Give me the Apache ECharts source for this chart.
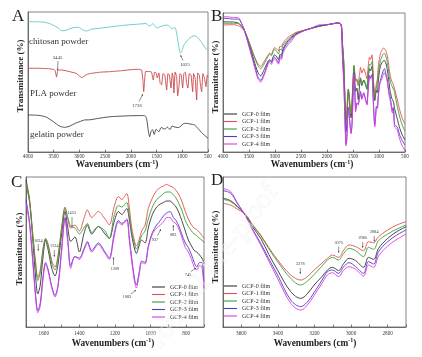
<!DOCTYPE html>
<html><head><meta charset="utf-8">
<script src="https://cdn.jsdelivr.net/npm/echarts@6/dist/echarts.min.js"></script>
<style>html,body{margin:0;padding:0;background:#fff}#c{width:422px;height:357px}</style>
</head><body><div id="c"></div><script>
// ---------- Panel A: raw powders ([wavenumber, transmittance-position]) ----------
const chitosan = [[4000,93.1],[3850,93.0],[3708,92.8],[3600,92],[3533,91.0],[3417,88.8],[3339,86.6],[3261,86.9],[3145,88.6],[3028,89.1],[2930,87.2],[2870,86.4],[2756,87.8],[2600,88.4],[2309,89.8],[2017,90.9],[1764,91.6],[1725,91.9],[1687,91.4],[1648,90.0],[1609,90.5],[1570,91.7],[1531,90.0],[1492,88.6],[1434,89.5],[1376,90.2],[1298,90.7],[1240,89.5],[1200,87.9],[1150,89.1],[1110,85.0],[1070,76],[1035,70.7],[1006,72.5],[967,76.5],[909,79.3],[851,81.5],[773,82.9],[715,82.5],[676,80.7],[618,78.0],[540,73.6],[500,73.0]];
const pla = [[4000,59.8],[3800,59.8],[3600,59.5],[3500,59],[3470,58],[3445,53.5],[3420,58.3],[3350,58.6],[3200,57.5],[3050,56],[2995,54],[2945,53.2],[2880,55],[2800,56],[2600,57],[2400,57.4],[2200,58],[2000,58.8],[1850,59.1],[1790,58.5],[1765,51],[1750,43.1],[1735,50],[1715,57.4],[1650,57.5],[1600,57.2],[1564,51.4],[1540,57],[1510,56.5],[1486,52.9],[1455,56.5],[1430,49],[1400,47.9],[1375,56],[1340,55],[1303,44.3],[1280,56],[1250,55],[1220,45.7],[1195,56.5],[1180,54],[1162,42.1],[1140,57],[1110,54],[1090,40],[1065,46.6],[1045,56],[1020,55],[993,45.7],[970,56],[940,57],[915,49],[890,45.7],[865,56],[830,55],[798,43.1],[780,56],[750,53],[720,37.1],[700,56.5],[670,55],[640,46],[623,43.1],[600,56],[570,53],[540,46.6],[515,55],[500,54]];
const gelatin = [[4000,26.4],[3800,26.2],[3650,25.0],[3500,21.5],[3400,18.8],[3290,17.6],[3200,18.3],[3080,20.5],[2950,22.3],[2900,22.9],[2800,23.0],[2600,24.2],[2400,25.2],[2200,25.6],[2000,25.9],[1800,26.0],[1720,25.8],[1690,23],[1660,15],[1635,10.9],[1610,14.5],[1580,16],[1545,12.5],[1510,16.2],[1455,14.5],[1410,17.5],[1340,16.3],[1290,17.8],[1240,16.0],[1200,18.6],[1160,18.0],[1080,17.4],[1030,18.5],[980,20.2],[920,20.5],[850,20.0],[760,19.3],[700,17.0],[600,13.0],[500,9.8]];

// ---------- Panel B: films, full range ----------
const bWn = [4000,3900,3800,3700,3620,3576,3494,3402,3330,3275,3202,3129,3102,3069,3040,3011,2975,2932,2905,2877,2850,2800,2750,2700,
  2600,2450,2300,2150,2000,1900,1800,1760,1735,1720,
  1700,1680,1660,1645,1634,1620,1605,1590,1575,1555,1537,1520,1500,
  1481,1465,1449,1425,1400,1375,1355,1331,1294,1256,1232,
  1205,1181,1162,1134,1120,1106,1090,1080,1065,1050,1031,
  1013,990,966,945,928,910,891,872,857,840,
  825,805,788,770,755,741,725,712,700,650,600,550,500];
const bGCP0 = [93.7,93.6,93.5,92.7,89.5,86.3,77.5,65.5,57.3,54.7,59.8,65.5,66.5,65.2,68,69.9,69,66.5,70.2,69.5,73.7,77.5,80,81.9,
  85,87.3,89,90.5,91.5,92.2,92.8,92.6,92,90.5,
  77.4,66.6,41.9,23,14.7,19.7,34.5,44.4,38.6,28.7,24.6,31.2,47.7,
  60,51,43.6,46,37.8,47.7,52.6,47.7,51.8,47.7,45.2,
  54.3,60,58.4,61.7,55.9,46.9,39.4,37,41.1,44.4,42.7,
  51,58.4,62.5,64.2,65,65.8,65.8,64.2,62.5,59.2,
  55.1,49.3,44.4,41.1,38.6,37.8,36.2,34.5,31.2,24,17,12,8.6];
const bGCP1 = [91.4,91.5,91.6,90.8,88.5,86.5,78.7,69.3,63.6,61.6,65.5,69.9,71.2,70.2,73,75,74.4,72.8,76.2,75.8,78.1,80.7,82.6,83.8,
  86,87.5,89,90.5,91.5,92.2,92.8,92.6,91.8,90,
  75.7,65.8,46,31.2,23.8,27.9,39.4,45.2,41.9,32.9,29.6,36.2,51,
  61.7,55.9,51,52.6,49.3,55.9,60.9,56.8,60,55.9,52.6,
  62.5,68.3,66.6,69.9,62.5,51,43.6,41.1,44.4,49.3,52.6,
  61.7,67.5,71.6,73.2,74.1,74.9,74.1,73.2,71.6,69.1,
  65.8,60,55.9,52.6,51,50.2,48.5,46.9,45.2,38,30,24,20];
const bGCP2 = [92.6,92.6,92.6,92.3,89.3,86.4,78.5,68.7,62.3,59.8,63.8,69.3,70.2,69.3,71.8,73.7,72.8,70.5,74,73.3,76.6,79.1,81,82.6,
  85.5,87.4,89,90.5,91.5,92.2,92.8,92.6,91.8,90,
  74.9,65,44.4,29.6,22.1,26.3,37.8,45.2,41.1,31.2,27.9,34.5,51,
  62.5,56.8,51.8,51,47.7,51,53.5,48.5,51.8,49.3,45.2,
  57.6,63.3,62.5,65,57.6,48.5,41.9,39.4,42.7,46.9,49.3,
  55.9,62.5,66.6,68.3,69.9,70.8,70.8,69.1,67.5,64.2,
  60.9,55.1,51.8,49.3,47.7,46.9,45.2,44.4,42.7,33,25,19,15];
const bGCP3 = [96.2,96,95.6,95.6,90.5,86.2,75.6,63.6,54.1,51.6,56.9,64.8,65.5,64.2,66.7,68.3,66.7,64.2,68.7,67.7,72.4,76.2,78.7,80.7,
  84.5,87.2,89,90.7,91.6,92.2,92.8,92.6,91.5,89.5,
  66.6,54.3,31.2,13.1,5.7,9.8,23.8,32,27.9,18.8,13.9,19.7,39.4,
  56.8,44.4,30.4,35.3,34.5,39.4,43.6,38.6,42.7,37.8,34.5,
  47.7,55.1,53.5,55.9,46,34.5,23,19.7,26.3,32.9,32,
  41.1,48.5,52.6,55.1,57.6,59.2,60,56.8,55.1,51.8,
  47.7,42.7,40.3,36.2,32,29.6,32,32,19.7,18,12,8,5];
const bGCP4 = [97.3,97.2,96.8,96.5,90.8,86,75,62.3,52.8,50.2,55.8,63.6,64.4,63,65.5,66.7,65.7,63.2,67.3,66.5,70.8,74.6,77.1,79.1,
  84,87.1,89.2,91.5,91.6,92.2,92.8,92.6,91.5,89.5,
  65,52.6,29.6,11.4,4.4,8.1,22.1,31.2,27.1,18,13.1,18.8,37.8,
  55.9,42.7,28.7,35.3,33.7,38.6,42.7,37.8,41.9,37,33.7,
  46,54.3,52.6,55.1,44.4,32.9,21.3,18,24.6,32,31.2,
  40.3,47.7,51,52.6,54.3,56.8,56.8,54.3,53.5,50.2,
  46,40.3,37.8,33.7,29.6,27.9,30.4,29.6,18,16,9,4,1];

// ---------- Panel C: films, 1700-700 ----------
const cWn = [1700,1680,1660,1645,1634,1620,1605,1590,1575,1555,1537,1520,1500,
  1481,1465,1449,1425,1400,1375,1355,1331,1294,1256,1232,
  1205,1181,1162,1134,1120,1106,1090,1080,1065,1050,1031,
  1013,990,966,945,928,910,891,872,857,840,
  825,805,788,770,755,741,725,712,704,700];
const cGCP0 = [98,85,55,32,22,28,46,58,51,39,34,42,62, 77,66,57,60,50,62,68,62,67,62,59, 70,77,75,79,72,61,52,49,54,58,56, 66,75,80,82,83,84,84,82,80,76, 71,64,58,54,51,50,48,46,44,42];
const cGCP1 = [96,84,60,42,33,38,52,59,55,44,40,48,66, 79,72,66,68,64,72,78,73,77,72,68, 80,87,85,89,80,66,57,54,58,64,68, 79,86,91,93,94,95,94,93,91,88, 84,77,72,68,66,65,63,61,60,59];
const cGCP2 = [95,83,58,40,31,36,50,59,54,42,38,46,66, 80,73,67,66,62,66,69,63,67,64,59, 74,81,80,83,74,63,55,52,56,61,64, 72,80,85,87,89,90,90,88,86,82, 78,71,67,64,62,61,59,58,57,56];
const cGCP3 = [85,70,42,20,11,16,33,43,38,27,21,28,52, 73,58,41,47,46,52,57,51,56,50,46, 62,71,69,72,60,46,32,28,36,44,43, 54,63,68,71,74,76,77,73,71,67, 62,56,53,48,43,40,43,43,36,28];
const cGCP4 = [83,68,40,18,9.5,14,31,42,37,26,20,27,50, 72,56,39,47,45,51,56,50,55,49,45, 60,70,68,71,58,44,30,26,34,43,42, 53,62,66,68,70,73,73,70,69,65, 60,53,50,45,40,38,41,40,32,26];

// ---------- Panel D: films, 3700-2700 ----------
const dWn = [3700,3658,3620,3576,3540,3494,3450,3402,3330,3275,3240,3202,3160,3129,3102,3069,3040,3011,2975,2932,2905,2877,2850,2800,2750,2700];
const dGCP0 = [85.8,84.2,80.2,74.5,67,59.1,48.5,38,23.6,19.1,22,28,33.5,38,39.8,37.6,42.4,45.8,44.2,39.8,46.4,45.1,52.4,59.1,63.6,66.9];
const dGCP1 = [82.4,81.3,78.4,75,68.5,61.3,53,44.7,34.7,31.3,33.5,38,42.5,45.8,48,46.4,51.3,54.7,53.6,50.9,56.9,56.2,60.2,64.7,68,70.2];
const dGCP2 = [85.1,83.6,79.8,75,68,60.9,52.2,43.6,32.4,28,30.5,35,40.5,44.7,46.4,44.7,49.1,52.4,50.9,46.9,53.1,51.8,57.6,62,65.3,68];
const dGCP3 = [90.9,89.1,82,74,65.5,55.8,45.5,34.7,18,13.6,16.5,23,31,36.9,38,35.8,40.2,42.9,40.2,35.8,43.6,42,50.2,56.9,61.3,64.7];
const dGCP4 = [92.4,90.2,82.4,74,65,54.7,44,32.4,15.8,11.3,14.5,21,29,34.7,36.2,33.6,38,40.2,38.4,34,41.3,39.8,47.3,54,58.4,62];

const filmNames = ['GCP-0 film','GCP-1 film','GCP-2 film','GCP-3 film','GCP-4 film'];
const peakA = [['3445',57.5,57.3],['1736',137,106],['1025',185,64.3]];
const peakC = [['1634',38.3,240.7],['1534',54.3,246],['1453',71.7,213.3],['1209',115,269.3],['1083',127,297],['937',155,240],['883',173.3,235],['745',188,275]];
const peakD = [['3278',300.3,264.3],['3075',338.7,242.7],['2960',362.7,238.3],['2884',374.3,232.3]];

// ---------- build ----------
const FONT = '"Liberation Serif","Times New Roman",serif';
const filmColors = ['#333333','#e0504d','#3c9c3c','#4a3cc8','#e03ae0'];
const zip = (xs, ys) => xs.map((x, i) => [x, ys[i]]);

const grids = [
  {left:28, top:12, width:180, height:140},
  {left:223, top:13, width:182, height:139},
  {left:26, top:177, width:178, height:150},
  {left:223, top:177, width:183, height:150}
].map(g => Object.assign(g, {show:true, borderColor:'#666', borderWidth:0.8, backgroundColor:'transparent', containLabel:false, outerBoundsMode:'none'}));

function xAx(i, min, max, interval, margin, fmt) {
  return {gridIndex:i, type:'value', inverse:true, min, max, interval,
    axisLine:{show:true, onZero:false, lineStyle:{color:'#555', width:0.8}},
    axisTick:{show:true, inside:true, length:2.5, lineStyle:{color:'#555', width:0.8}},
    axisLabel:{fontFamily:FONT, fontSize:5.2, color:'#333', margin, formatter:fmt, hideOverlap:false},
    splitLine:{show:false}};
}
function yAx(i) {
  return {gridIndex:i, type:'value', min:0, max:100,
    axisLine:{show:true, onZero:false, lineStyle:{color:'#555', width:0.8}},
    axisTick:{show:false}, axisLabel:{show:false}, splitLine:{show:false}};
}
const plain = v => String(v);
const even200 = v => (v % 200 === 0 ? String(v) : '');

const series = [];
function addLine(name, data, color, xi, smooth, w) {
  series.push({type:'line', name, data, xAxisIndex:xi, yAxisIndex:xi, symbol:'none', showSymbol:false,
    smooth:smooth, lineStyle:{color, width:w||0.9}, itemStyle:{color}, emphasis:{disabled:true}, silent:true});
}
addLine('chitosan powder', chitosan, '#62c8c8', 0, 0.3);
addLine('PLA powder', pla, '#c84444', 0, 0.1);
addLine('gelatin powder', gelatin, '#444444', 0, 0.25);
const bSets = [bGCP0,bGCP1,bGCP2,bGCP3,bGCP4];
const cSets = [cGCP0,cGCP1,cGCP2,cGCP3,cGCP4];
const dSets = [dGCP0,dGCP1,dGCP2,dGCP3,dGCP4];
filmNames.forEach((n, k) => addLine(n, zip(bWn, bSets[k]), filmColors[k], 1, 0.2));
filmNames.forEach((n, k) => addLine(n, zip(cWn, cSets[k]), filmColors[k], 2, 0.3));
filmNames.forEach((n, k) => addLine(n, zip(dWn, dSets[k]), filmColors[k], 3, 0.35));

function legend(left, top) {
  return {show:true, orient:'vertical', left, top, padding:0, itemGap:1.5, itemWidth:13, itemHeight:1.1,
    icon:'rect', selectedMode:false, data:filmNames,
    textStyle:{fontFamily:FONT, fontSize:6, color:'#333', lineHeight:6}};
}

const graphic = [];
function txt(text, x, y, size, opts) {
  graphic.push(Object.assign({type:'text', x, y, silent:true, z:50,
    style:Object.assign({text, fontFamily:FONT, fontSize:size, fill:'#222', align:'left', verticalAlign:'middle'}, (opts && opts.style) || {})},
    (opts && opts.el) || {}));
}
function arrow(x1, y1, x2, y2) {
  const dx = x2 - x1, dy = y2 - y1, L = Math.hypot(dx, dy) || 1, ux = dx / L, uy = dy / L;
  const hl = 1.8, hw = 0.9;
  graphic.push({type:'line', silent:true, z:50, shape:{x1, y1, x2:x2 - ux*hl, y2:y2 - uy*hl}, style:{stroke:'#222', lineWidth:0.5}});
  graphic.push({type:'polygon', silent:true, z:50, shape:{points:[[x2, y2],[x2 - ux*hl - uy*hw, y2 - uy*hl + ux*hw],[x2 - ux*hl + uy*hw, y2 - uy*hl - ux*hw]]}, style:{fill:'#222'}});
}
// panel letters
txt('A', 12, 16.5, 17); txt('B', 211, 16.5, 17); txt('C', 11, 182.5, 17); txt('D', 211, 181, 17);
// axis titles
const xt = {text:'Wavenumbers (cm{s|-1})', fontWeight:'bold', align:'center',
  rich:{s:{fontFamily:FONT, fontSize:6, fontWeight:'bold', fill:'#222', padding:[0,0,6,0]}}};
[[117,165],[312,165],[113,343.5],[315,343.5]].forEach(p => txt('', p[0], p[1], 9.3, {style:xt}));
[[20.5,76],[216,77],[19.5,249],[215.5,247]].forEach(p =>
  txt('Transmittance (%)', p[0], p[1], 9, {style:{fontWeight:'bold', align:'center'}, el:{rotation:Math.PI/2}}));
// panel A labels
txt('chitosan powder', 29, 41.7, 9, {style:{fill:'#333'}});
txt('PLA powder', 30, 93.3, 9, {style:{fill:'#333'}});
txt('gelatin powder', 30, 135, 9, {style:{fill:'#333'}});
// peak annotations
peakA.forEach(p => txt(p[0], p[1], p[2], 4.8, {style:{align:'center', fill:'#333'}}));
peakC.forEach(p => txt(p[0], p[1], p[2], 4.2, {style:{align:'center', fill:'#333'}}));
peakD.forEach(p => txt(p[0], p[1], p[2], 4.2, {style:{align:'center', fill:'#333'}}));
arrow(58, 61, 57.5, 70.5); arrow(139, 101.5, 143, 94); arrow(183, 60.5, 180.5, 55);
arrow(38.3, 244, 38.3, 251); arrow(54.3, 250, 54.3, 257); arrow(72, 217, 72, 227);
arrow(113.5, 265, 113.5, 257); arrow(131, 294, 136, 290); arrow(157.5, 235.5, 161, 229);
arrow(173.3, 231, 173.3, 225); arrow(191, 271.5, 196, 268);
arrow(300.3, 268, 300.3, 274); arrow(338.7, 246.5, 338.7, 253); arrow(362.7, 242, 362.7, 248); arrow(374.3, 236, 374.3, 241.5);
// faint watermark
graphic.push({type:'text', x:214, y:266, rotation:0.93, silent:true, z:60,
  style:{text:'Journal Pre-proof', fontFamily:FONT, fontSize:28, fill:'rgba(255,255,255,0.4)', stroke:'rgba(200,200,200,0.28)', lineWidth:0.6, align:'center', verticalAlign:'middle'}});

const chart = echarts.init(document.getElementById('c'), null, {renderer:'canvas'});
chart.setOption({
  animation:false,
  backgroundColor:'#fff',
  grid:grids,
  xAxis:[xAx(0,500,4000,500,2.5,plain), xAx(1,500,4000,500,2.5,plain), xAx(2,700,1700,100,4,even200), xAx(3,2700,3700,100,4,even200)],
  yAxis:[yAx(0), yAx(1), yAx(2), yAx(3)],
  legend:[legend(224,111), legend(152,284), legend(224,283)],
  series,
  graphic
});
</script></body></html>
